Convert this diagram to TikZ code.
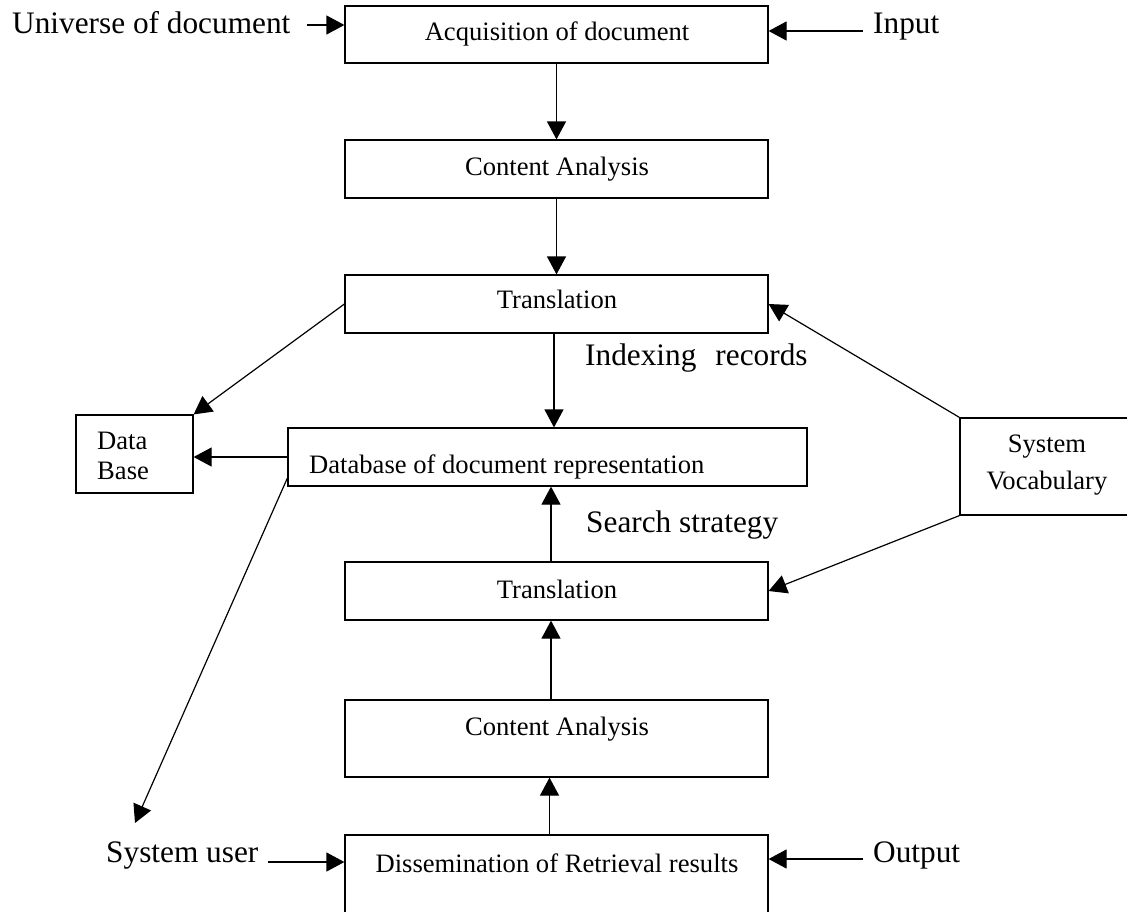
\documentclass[tikz,border=0pt]{standalone}
\usepackage{fontspec}
\setmainfont{Liberation Serif}
\usetikzlibrary{arrows.meta,calc}
\begin{document}
\begin{tikzpicture}[x=1pt,y=-1pt,
  box/.style={draw, line width=1.2pt, inner sep=0pt},
  btxt/.style={inner sep=0pt, font=\fontsize{26.6}{30}\selectfont},
  ltxt/.style={inner sep=0pt, font=\fontsize{31.3}{36}\selectfont},
  arr/.style={line width=1.2pt, -{Triangle[length=18pt,width=19pt]}}]
\useasboundingbox (0,0) rectangle (1127,911);
\clip (0,0) rectangle (1127,911);

% boxes
\node[box, minimum width=423pt, minimum height=57pt] (acq) at (556.5,34.5) {};
\node[box, minimum width=423pt, minimum height=58pt] (ca1) at (556.5,169) {};
\node[box, minimum width=423pt, minimum height=58pt] (tr1) at (556.5,304) {};
\node[box, minimum width=519pt, minimum height=58pt] (dbr) at (547.5,457) {};
\node[box, minimum width=117pt, minimum height=78pt] (dbase) at (134.5,454) {};
\node[box, minimum width=200pt, minimum height=97pt] (sv) at (1060,466.5) {};
\node[box, minimum width=423pt, minimum height=58pt] (tr2) at (556.5,591) {};
\node[box, minimum width=423pt, minimum height=77pt] (ca2) at (556.5,738.5) {};
\node[box, minimum width=423pt, minimum height=130pt] (dis) at (556.5,900) {};

% box texts
\node[btxt, anchor=base] (acqT) at (557,40.5) {Acquisition of document};
\node[btxt, anchor=base] (ca1T) at (557,175) {Content Analysis};
\node[btxt, anchor=base] (tr1T) at (557,308) {Translation};
\node[btxt, anchor=base west] (dbrT) at (309,473) {Database of document representation};
\node[btxt, anchor=west, align=left] (dbaseT) at (97,456.2) {Data\\Base};
\node[btxt, anchor=center, align=center, font=\fontsize{26.6}{37}\selectfont] (svT) at (1047,465.4) {System\\Vocabulary};
\node[btxt, anchor=base] (tr2T) at (557,598) {Translation};
\node[btxt, anchor=base] (ca2T) at (557,735) {Content Analysis};
\node[btxt, anchor=base] (disT) at (557,872) {Dissemination of Retrieval results};

% outside labels
\node[ltxt, anchor=base west] (univ) at (12,33) {Universe of document};
\node[ltxt, anchor=base west] (inp) at (873,33) {Input};
\node[ltxt, anchor=base west] (idx) at (585,365) {Indexing\hspace{19pt}records};
\node[ltxt, anchor=base west] (ss) at (586,532) {Search strategy};
\node[ltxt, anchor=base west] (suser) at (106,862) {System user};
\node[ltxt, anchor=base west] (outp) at (873,862) {Output};

% free ends
\coordinate (uS) at (307,25);
\coordinate (iS) at (863,31);
\coordinate (sS) at (268,862);
\coordinate (oS) at (863,859);
\coordinate (suTip) at (135,823);

% side arrows
\draw[arr] (uS) -- (uS -| acq.west);
\draw[arr] (iS) -- (iS -| acq.east);
\draw[arr] (sS) -- (sS -| dis.west);
\draw[arr] (oS) -- (oS -| dis.east);

% vertical flow
\draw[arr] (acq.south) -- (ca1.north);
\draw[arr] (ca1.south) -- (tr1.north);
\draw[arr] ($(tr1.south)+(-2.5,0)$) -- ($(tr1.south |- dbr.north)+(-2.5,0)$);
\draw[arr] ($(tr2.north)+(-5.5,0)$) -- ($(tr2.north |- dbr.south)+(-5.5,0)$);
\draw[arr] ($(ca2.north)+(-5.5,0)$) -- ($(ca2.north |- tr2.south)+(-5.5,0)$);
\draw[arr] ($(dis.north)+(-7,0)$) -- ($(dis.north |- ca2.south)+(-7,0)$);

% diagonals and database links
\draw[arr] (tr1.west) -- (dbase.north east);
\draw[arr] (dbr.west) -- (dbr.west -| dbase.east);
\draw[arr] ($(dbr.west)+(0,21)$) -- (suTip);
\draw[arr] (sv.north west) -- (tr1.east);
\draw[arr] (sv.south west) -- (tr2.east);
\end{tikzpicture}
\end{document}
